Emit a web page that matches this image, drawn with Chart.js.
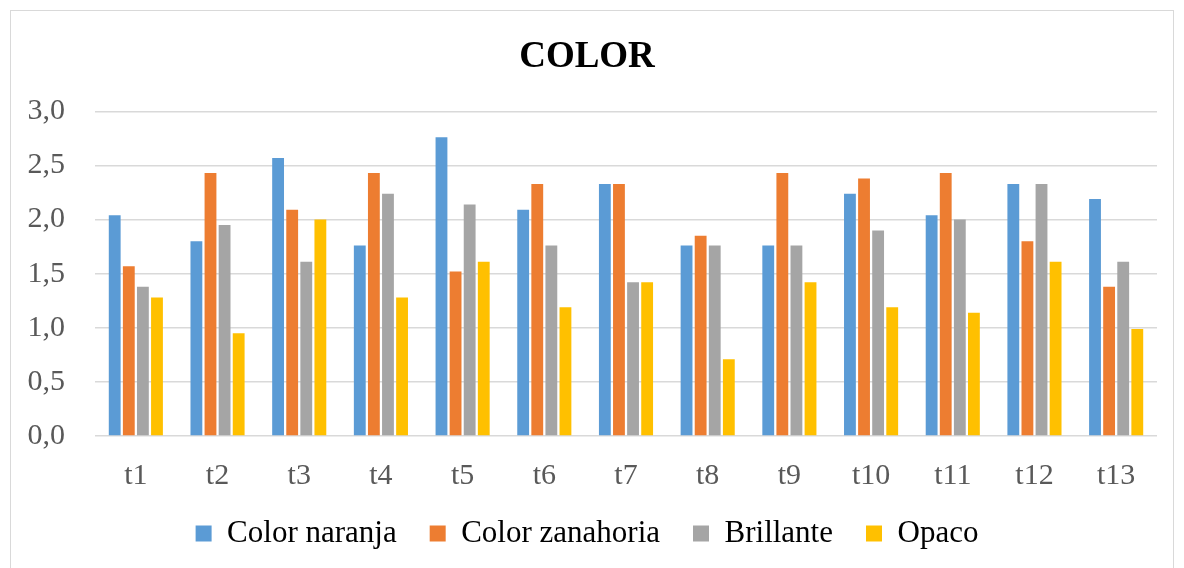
<!DOCTYPE html>
<html>
<head>
<meta charset="utf-8">
<script src="https://cdn.jsdelivr.net/npm/chart.js@4/dist/chart.umd.min.js"></script>
<style>
  body { margin: 0; background: #fff; overflow: hidden; }
  .report-panel {
    position: absolute; left: 10px; top: 10px;
    width: 1164px; height: 570px;
    border: 1px solid #d9d9d9; box-sizing: border-box;
  }
</style>
</head>
<body>
<div class="report-panel">
  <canvas id="color_chart"></canvas>
</div>

<script>
const categories = ['t1', 't2', 't3', 't4', 't5', 't6', 't7', 't8', 't9', 't10', 't11', 't12', 't13'];
const colorNaranja   = [2.04, 1.80, 2.57, 1.76, 2.76, 2.09, 2.33, 1.76, 1.76, 2.24, 2.04, 2.33, 2.19];
const colorZanahoria = [1.57, 2.43, 2.09, 2.43, 1.52, 2.33, 2.33, 1.85, 2.43, 2.38, 2.43, 1.80, 1.38];
const brillante      = [1.38, 1.95, 1.61, 2.24, 2.14, 1.76, 1.42, 1.76, 1.76, 1.90, 2.00, 2.33, 1.61];
const opaco          = [1.28, 0.95, 2.00, 1.28, 1.61, 1.19, 1.42, 0.71, 1.42, 1.19, 1.14, 1.61, 0.99];

var decimalComma = function(value) {
  return Number(value).toFixed(1).replace('.', ',');
}

var makeSet = function(label, data, color) {
  return {
    label: label,
    data: data,
    backgroundColor: color,
    borderWidth: 0,
    barPercentage: 0.84,
    categoryPercentage: 0.69
  };
}

// wider gap between legend entries, like the original
var spacedLabels = function(chart) {
  const items = Chart.defaults.plugins.legend.labels.generateLabels(chart);
  items.forEach((item, i) => {
    if (i < items.length - 1) item.text = item.text + '\u00a0\u00a0\u00a0\u00a0';
  });
  return items;
}

const serif = '"Liberation Serif", "Times New Roman", serif';
const ctx = document.getElementById('color_chart');

new Chart(ctx, {
  type: 'bar',
  data: {
    labels: categories,
    datasets: [
      makeSet('Color naranja', colorNaranja, '#5b9bd5'),
      makeSet('Color zanahoria', colorZanahoria, '#ed7d31'),
      makeSet('Brillante', brillante, '#a5a5a5'),
      makeSet('Opaco', opaco, '#ffc000')
    ]
  },
  options: {
    responsive: true,
    maintainAspectRatio: false,
    animation: false,
    layout: { padding: { left: 6, right: 16, top: 24, bottom: 20 } },
    plugins: {
      title: {
        display: true,
        text: 'COLOR',
        color: '#000',
        font: { family: serif, size: 37, weight: 'bold' },
        padding: { top: 0, bottom: 32 }
      },
      legend: {
        position: 'bottom',
        labels: {
          color: '#000',
          font: { family: serif, size: 31 },
          boxWidth: 16,
          boxHeight: 16,
          padding: 2,
          generateLabels: spacedLabels
        }
      },
      tooltip: { enabled: false }
    },
    scales: {
      x: {
        grid: { display: false, drawTicks: false },
        border: { display: false },
        ticks: { color: '#595959', font: { family: serif, size: 30 }, padding: 22 }
      },
      y: {
        min: 0,
        max: 3,
        grid: { color: '#d9d9d9', lineWidth: 1.5, drawTicks: false },
        border: { display: false },
        ticks: {
          stepSize: 0.5,
          color: '#595959',
          font: { family: serif, size: 30 },
          padding: 30,
          callback: decimalComma
        },
        afterFit: function(scale) { scale.width = 78; }
      }
    }
  }
});
</script>
</body>
</html>
